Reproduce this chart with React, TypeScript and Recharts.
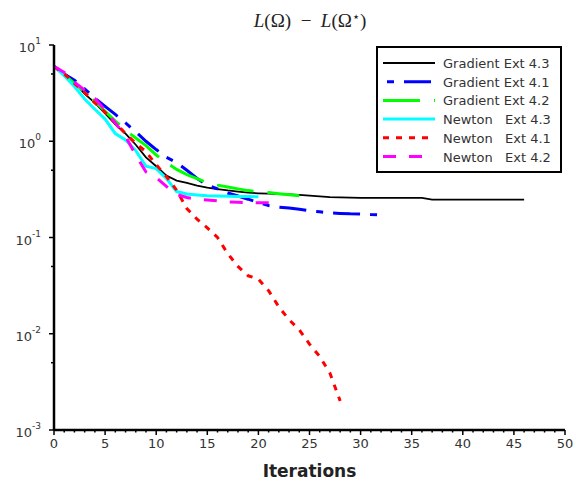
import React from "react";
import { LineChart, Line, XAxis, YAxis, Legend, Label } from "recharts";

// values, one entry per iteration (index = iteration)
const gradientExt43 = [
  6.0, 4.9, 4.1, 3.1, 2.5, 1.95, 1.5, 1.2, 0.92, 0.68,
  0.55, 0.44, 0.39, 0.37, 0.345, 0.33, 0.318, 0.308, 0.3, 0.292,
  0.288, 0.285, 0.283, 0.28, 0.277, 0.272, 0.267, 0.263, 0.261, 0.26,
  0.258, 0.258, 0.258, 0.258, 0.258, 0.258, 0.258, 0.248, 0.248, 0.248,
  0.248, 0.248, 0.248, 0.248, 0.248, 0.248, 0.248,
];
const gradientExt41 = [
  6.0, 5.0, 4.3, 3.5, 2.8, 2.3, 1.9, 1.55, 1.25, 1.0,
  0.82, 0.68, 0.6, 0.5, 0.41, 0.35, 0.32, 0.29, 0.27, 0.25,
  0.23, 0.215, 0.207, 0.203, 0.197, 0.19, 0.185, 0.18, 0.178, 0.176,
  0.175, 0.173, 0.172,
];
const gradientExt42 = [
  6.0, 4.9, 4.0, 3.3, 2.6, 2.05, 1.62, 1.3, 1.08, 0.9,
  0.72, 0.6, 0.51, 0.45, 0.41, 0.37, 0.35, 0.335, 0.32, 0.307,
  0.3, 0.293, 0.285, 0.278, 0.272,
];
const newtonExt43 = [
  6.0, 4.8, 3.7, 2.75, 2.15, 1.7, 1.2, 1.03, 0.8, 0.55,
  0.52, 0.41, 0.3, 0.283, 0.277, 0.272, 0.27, 0.268, 0.267, 0.266,
  0.265,
];
const newtonExt41 = [
  6.0, 5.0, 4.0, 3.2, 2.5, 2.0, 1.55, 1.2, 0.95, 0.78,
  0.57, 0.43, 0.31, 0.2, 0.155, 0.126, 0.1, 0.068, 0.05, 0.04,
  0.037, 0.028, 0.019, 0.014, 0.011, 0.0078, 0.0058, 0.0039, 0.002,
];
const newtonExt42 = [
  6.0, 5.2, 4.1, 3.4, 2.8, 2.1, 1.55, 1.12, 0.72, 0.48,
  0.42, 0.34, 0.28, 0.26, 0.25, 0.245, 0.24, 0.235, 0.232, 0.23,
  0.229, 0.229, 0.228,
];

const xTicks = [
  0, 1, 2, 3, 4, 5, 6, 7, 8, 9, 10, 11, 12, 13, 14, 15, 16, 17, 18, 19, 20,
  21, 22, 23, 24, 25, 26, 27, 28, 29, 30, 31, 32, 33, 34, 35, 36, 37, 38, 39, 40,
  41, 42, 43, 44, 45, 46, 47, 48, 49, 50,
];
const yMajorTicks = [0.001, 0.01, 0.1, 1, 10];
const yMinorTicks = [0.005, 0.05, 0.5, 5];
const yExponents: Record<string, string> = { "0.001": "-3", "0.01": "-2", "0.1": "-1", "1": "0", "10": "1" };

const series = [
  { key: "g43", name: "Gradient Ext 4.3", values: gradientExt43, color: "#000000", width: 1.8, dash: undefined, legendOffset: 0 },
  { key: "g41", name: "Gradient Ext 4.1", values: gradientExt41, color: "#0000ff", width: 3, dash: "27 10 7 10", legendOffset: 33 },
  { key: "g42", name: "Gradient Ext 4.2", values: gradientExt42, color: "#00ff00", width: 3, dash: "37 14", legendOffset: 0 },
  { key: "n43", name: "Newton   Ext 4.3", values: newtonExt43, color: "#00ffff", width: 3, dash: undefined, legendOffset: 0 },
  { key: "n41", name: "Newton   Ext 4.1", values: newtonExt41, color: "#ff0000", width: 3, dash: "6 7", legendOffset: 0 },
  { key: "n42", name: "Newton   Ext 4.2", values: newtonExt42, color: "#ff00ff", width: 3, dash: "13 13", legendOffset: 0 },
];

const maxLen = Math.max(...series.map((s) => s.values.length));
const rows = Array.from({ length: maxLen }, (_, i) => {
  const row: Record<string, number | undefined> = { it: i };
  for (const s of series) row[s.key] = s.values[i];
  return row;
});

const FONT = "'DejaVu Sans', Verdana, sans-serif";

const XTick = (props: any) => {
  const { x, y, payload } = props;
  const major = payload.value % 5 === 0;
  return (
    <g>
      <line x1={x} x2={x} y1={y} y2={y + (major ? 5 : 2.5)} stroke="#000" strokeWidth={1.5} />
      {major ? (
        <text x={x} y={y + 18} textAnchor="middle" fontSize={13} fontFamily={FONT} fill="#333">
          {payload.value}
        </text>
      ) : null}
    </g>
  );
};

const YTick = (props: any) => {
  const { x, y, payload } = props;
  const exp = yExponents[String(payload.value)];
  return (
    <g>
      <line x1={x} x2={x - (exp ? 5 : 3)} y1={y} y2={y} stroke="#000" strokeWidth={1.5} />
      {exp ? (
        <text x={x - 13} y={y + 7} textAnchor="end" fontSize={13} fontFamily={FONT} fill="#333">
          10
          <tspan dy={-8} fontSize={9}>{exp}</tspan>
        </text>
      ) : null}
    </g>
  );
};

const LegendBox = () => (
  <div style={{ width: 186, height: 127, lineHeight: 0 }}>
    <svg width={186} height={127}>
      <rect x={1} y={1} width={184} height={125} fill="#fff" stroke="#000" strokeWidth={2} />
      {series.map((s, i) => {
        const cy = 17 + i * 18.7;
        return (
          <g key={s.key}>
            <line
              x1={7}
              x2={59}
              y1={cy}
              y2={cy}
              stroke={s.color}
              strokeWidth={s.width}
              strokeDasharray={s.dash}
              strokeDashoffset={s.legendOffset}
            />
            <text x={67} y={cy + 5} fontSize={13} fontFamily={FONT} fill="#333" style={{ whiteSpace: "pre" }}>
              {s.name}
            </text>
          </g>
        );
      })}
    </svg>
  </div>
);

export default function App() {
  return (
    <div style={{ position: "absolute", left: 0, top: 0, width: 576, height: 491, background: "#fff" }}>
      <div
        style={{
          position: "absolute",
          left: 0,
          width: 620,
          top: 5,
          textAlign: "center",
          fontFamily: "'Liberation Serif', 'DejaVu Serif', serif",
          fontSize: 19,
          color: "#222",
          lineHeight: "24px",
          zIndex: 2,
        }}
      >
        <i>L</i>(Ω) &nbsp;−&nbsp; <i>L</i>(Ω<sup style={{ fontSize: 13, verticalAlign: "6px" }}>⋆</sup>)
      </div>
      <LineChart width={576} height={491} data={rows} margin={{ top: 45, right: 11, bottom: 0, left: 0 }}>
        <XAxis
          dataKey="it"
          type="number"
          domain={[0, 50]}
          ticks={xTicks}
          interval={0}
          tick={<XTick />}
          tickSize={0}
          tickMargin={0}
          tickLine={false}
          height={61}
          axisLine={{ stroke: "#000", strokeWidth: 2.5 }}
        >
          <Label
            content={(p: any) => {
              const vb = p.viewBox;
              return (
                <text
                  x={vb.x + vb.width / 2}
                  y={vb.y + 47}
                  textAnchor="middle"
                  fontSize={17}
                  fontWeight="bold"
                  fontFamily={FONT}
                  fill="#222"
                >
                  Iterations
                </text>
              );
            }}
          />
        </XAxis>
        <YAxis
          scale="log"
          type="number"
          domain={[0.001, 10]}
          allowDataOverflow
          ticks={[...yMajorTicks, ...yMinorTicks]}
          interval={0}
          tick={<YTick />}
          tickSize={0}
          tickMargin={0}
          tickLine={false}
          width={54}
          axisLine={{ stroke: "#000", strokeWidth: 2.5 }}
        />
        <Legend
          layout="vertical"
          align="center"
          verticalAlign="middle"
          content={<LegendBox />}
          wrapperStyle={{ left: 376, top: 46, width: 186, height: 127 }}
        />
        {series.map((s) => (
          <Line
            key={s.key}
            dataKey={s.key}
            name={s.name}
            type="linear"
            stroke={s.color}
            strokeWidth={s.width}
            strokeDasharray={s.dash}
            dot={false}
            activeDot={false}
            isAnimationActive={false}
          />
        ))}
      </LineChart>
    </div>
  );
}
